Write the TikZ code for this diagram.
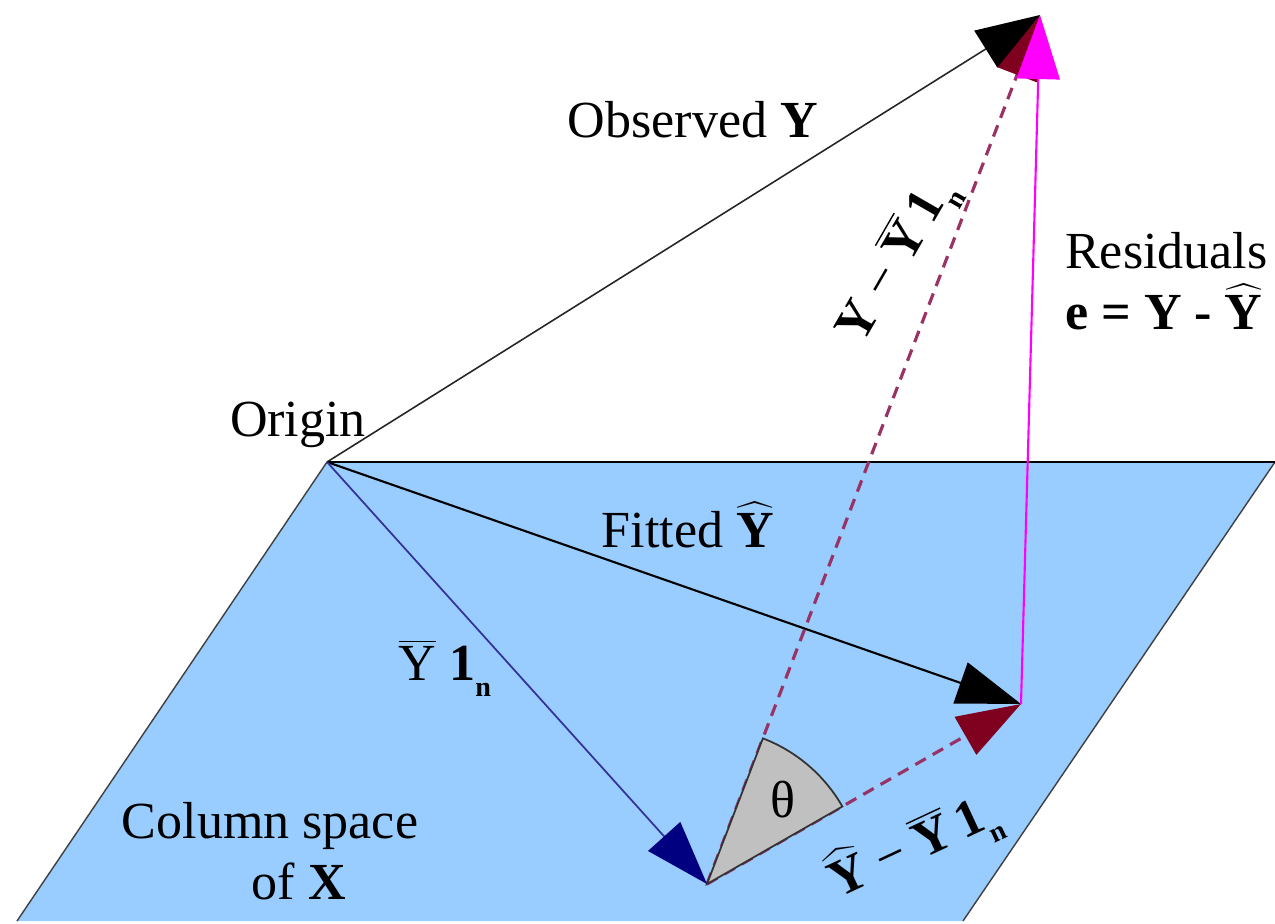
\documentclass[tikz,border=0pt]{standalone}
\usepackage{fontspec}
\setmainfont{Liberation Serif}
\usepackage{tikz}
\usetikzlibrary{arrows.meta}
\definecolor{planeblue}{HTML}{99CCFF}
\definecolor{meanblue}{HTML}{333399}
\definecolor{meanhead}{HTML}{000080}
\definecolor{devline}{HTML}{993366}
\definecolor{devhead}{HTML}{800020}
\definecolor{wedgegray}{HTML}{C0C0C0}
\definecolor{resmagenta}{HTML}{FF00FF}
\newcommand{\hatY}{\ensuremath{\widehat{\hbox{\bfseries Y}}}}
\newcommand{\barY}[1][\mdseries]{\ensuremath{\overline{\hbox{#1Y}}}}
\newcommand{\onen}{\textbf{1}\raisebox{-4.5pt}{\fontsize{8}{8}\selectfont\bfseries n}}

\begin{document}
\begin{tikzpicture}[x=0.01cm,y=0.01cm,
  every node/.style={font=\fontsize{14.8}{17.5}\selectfont,inner sep=1pt},
  bigtip/.style={-{Triangle[length=6.4mm,width=4.3mm,color=#1]}},
  bigtip/.default=black,
  devdash/.style={devline,line width=0.9pt,dash pattern=on 1.2mm off 0.8mm}]
\useasboundingbox (0,0) rectangle (1275,923);
% ---- column space of X ----
\fill[planeblue] (327,461) -- (1275,461) -- (963,2) -- (17,2) -- cycle;
\draw[black!75,thin] (17,2) -- (327,461);
\draw[black!75,thin] (1275,461) -- (963,2);
\draw[black,line width=0.7pt] (327,461) -- (1275,461);
% ---- vector tips ----
\coordinate (O) at (327,461);
\coordinate (Y) at (1040,908);
\coordinate (Yhat) at (1021,219);
\coordinate (Ybar) at (707,39);
% ---- deviations from the mean ----
\draw[devdash,bigtip=devhead] (Ybar) -- (Y);
\draw[devdash,bigtip=devhead] (Ybar) -- (Yhat);
\filldraw[fill=wedgegray,draw=black!80,line width=0.5pt]
  (Ybar) -- ++(29.8:156) arc[start angle=29.8,end angle=69,radius=156] -- cycle;
% ---- vectors from the origin ----
\draw[black!85,line width=0.45pt,bigtip] (O) -- (Y);
\draw[black,line width=0.6pt,bigtip] (O) -- (Yhat);
\draw[meanblue,line width=0.5pt,bigtip=meanhead] (O) -- (Ybar);
\draw[resmagenta,line width=0.6pt,bigtip=resmagenta] (Yhat) -- (Y);
% ---- labels ----
\node (origin) at (298,498) {Origin};
\node (obs) at (693,803) {Observed \textbf{Y}};
\node (fit) at (688,398) {Fitted \hatY};
\node (mean) at (445,255) {\barY\ \onen};
\node[align=center] (colsp) at (270,72) {Column space\\\hspace*{1.1em}of \textbf{X}};
\node (theta) at (783,123) {θ};
\node[align=left,anchor=west] (res) at (1061,642) {Residuals\\\textbf{e = Y -} \hatY};
\node[rotate=60] (devY) at (897,662) {\textbf{Y} − \barY[\bfseries]\,\onen};
\node[rotate=25] (devYhat) at (914,76) {\hatY\ − \barY[\bfseries]\,\onen};
\end{tikzpicture}
\end{document}
